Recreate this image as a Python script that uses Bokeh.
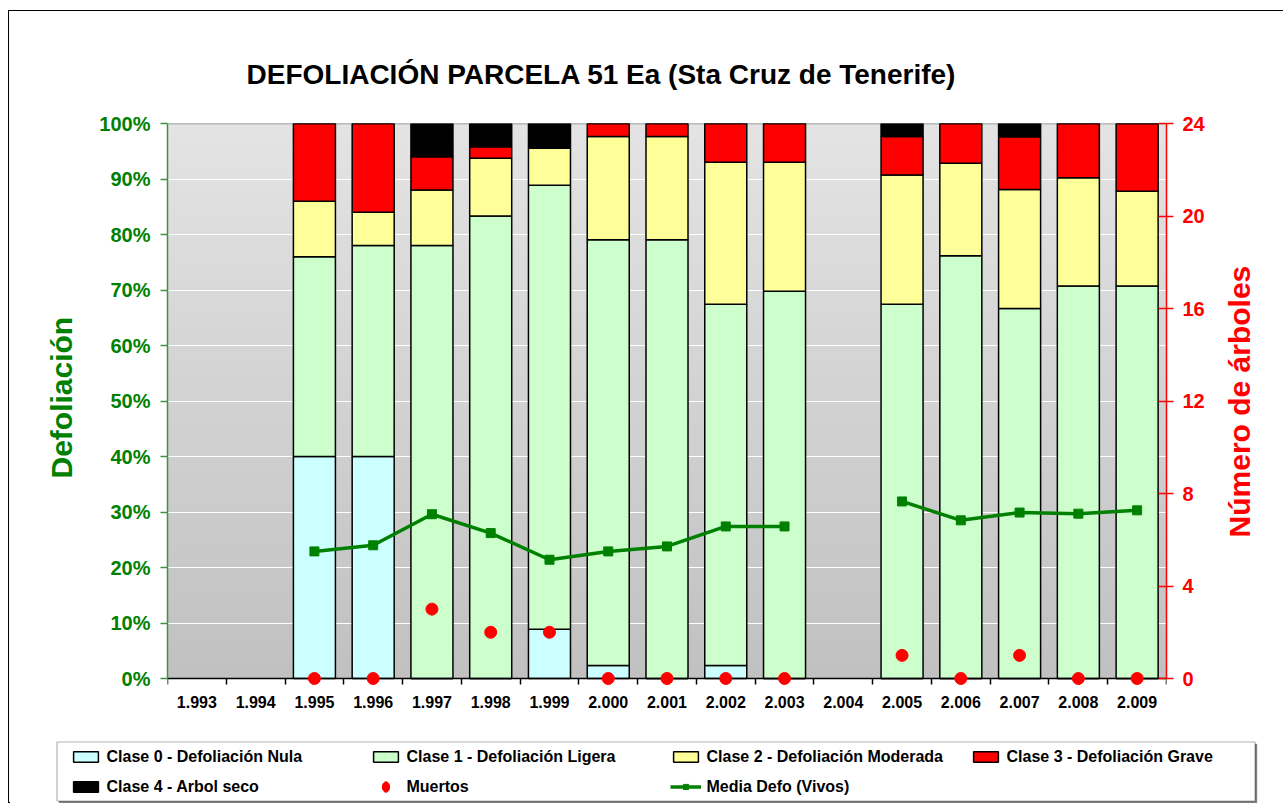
import math
import numpy as np
from bokeh.plotting import figure
from bokeh.layouts import column
from bokeh.models import (Range1d, LinearAxis, FixedTicker, PrintfTickFormatter, Legend,
                          LegendItem, ColumnDataSource, Span, BoxAnnotation, Title)
from bokeh.embed import file_html
from bokeh.resources import INLINE

nan = float("nan")

# ---------------- data ----------------
years = ["1.993", "1.994", "1.995", "1.996", "1.997", "1.998", "1.999", "2.000", "2.001",
         "2.002", "2.003", "2.004", "2.005", "2.006", "2.007", "2.008", "2.009"]
clase0 = [nan, nan, 40.0, 40.0, 0.0, 0.0, 8.89, 2.33, 0.0, 2.33, 0.0, nan, 0.0, 0.0, 0.0, 0.0, 0.0]
clase1 = [nan, nan, 36.0, 38.0, 78.0, 83.33, 80.0, 76.74, 79.07, 65.12, 69.77, nan, 67.44, 76.19, 66.67, 70.73, 70.73]
clase2 = [nan, nan, 10.0, 6.0, 10.0, 10.42, 6.67, 18.60, 18.60, 25.58, 23.26, nan, 23.26, 16.67, 21.43, 19.51, 17.07]
clase3 = [nan, nan, 14.0, 16.0, 6.0, 2.08, 0.0, 2.33, 2.33, 6.98, 6.98, nan, 6.98, 7.14, 9.52, 9.76, 12.20]
clase4 = [nan, nan, 0.0, 0.0, 6.0, 4.17, 4.44, 0.0, 0.0, 0.0, 0.0, nan, 2.33, 0.0, 2.38, 0.0, 0.0]
muertos = [nan, nan, 0, 0, 3, 2, 2, 0, 0, 0, 0, nan, 1, 0, 1, 0, 0]
media_defo = [nan, nan, 22.9, 24.0, 29.6, 26.2, 21.4, 22.9, 23.8, 27.4, 27.4, nan, 31.9, 28.5, 29.9, 29.7, 30.3]

series_names = ["Clase 0 - Defoliación Nula", "Clase 1 - Defoliación Ligera",
                "Clase 2 - Defoliación Moderada", "Clase 3 - Defoliación Grave",
                "Clase 4 - Arbol seco"]
series_colors = ["#CCFFFF", "#CCFFCC", "#FFFF99", "#FF0000", "#000000"]
left_ticks = [0, 10, 20, 30, 40, 50, 60, 70, 80, 90, 100]
right_ticks = [0, 4, 8, 12, 16, 20, 24]
right_title = "Número de árboles"

FONT = "Liberation Sans"
GREEN = "#008000"
RED = "#FF0000"

n = len(years)
xs = list(range(n))
source = ColumnDataSource(dict(x=xs, c0=clase0, c1=clase1, c2=clase2, c3=clase3, c4=clase4,
                               muertos=muertos, media=media_defo))

# a small strip below zero so that markers sitting on 0 are not cut by the frame
pad_px = 8.0
frame_h = 555.0
y_lo = -100.0 * pad_px / frame_h
y2_lo = -24.0 * pad_px / frame_h

FIG_W = 1274
p = figure(width=FIG_W, height=720, output_backend="svg", toolbar_location=None,
           x_range=Range1d(-0.5, n - 0.5), y_range=Range1d(y_lo, 100),
           min_border_left=158, min_border_right=117, min_border_top=112, min_border_bottom=45,
           background_fill_color="white", border_fill_color="white",
           outline_line_color=None,
           title="DEFOLIACIÓN PARCELA 51 Ea (Sta Cruz de Tenerife)")
p.extra_y_ranges = {"right": Range1d(y2_lo, 24)}
p.frame_align = False

# title
p.title.align = "left"
p.title.offset = 79
p.title.standoff = 67
p.title.text_font = FONT
p.title.text_font_size = "28px"
p.title.text_font_style = "bold"
p.title.text_color = "black"

# gradient background of the plot area (0 % .. 100 %)
gh = 200
top_c = np.array([228, 228, 228])
bot_c = np.array([193, 193, 193])
img = np.empty((gh, 1), dtype=np.uint32)
view = img.view(dtype=np.uint8).reshape((gh, 1, 4))
for i in range(gh):
    t = i / (gh - 1)
    c = bot_c + (top_c - bot_c) * t
    view[i, 0, 0] = int(c[0]); view[i, 0, 1] = int(c[1]); view[i, 0, 2] = int(c[2]); view[i, 0, 3] = 255
p.image_rgba(image=[img], x=p.x_range.start, y=0,
             dw=p.x_range.end - p.x_range.start, dh=100, level="image")

# grid
p.xgrid.visible = False
p.ygrid.ticker = FixedTicker(ticks=left_ticks[1:-1])
p.ygrid.grid_line_color = "white"
p.ygrid.grid_line_width = 1.2
p.add_layout(Span(location=100, dimension="width", line_color="#808080", line_width=1.5,
                  level="underlay"))

# bars
bar_style = dict(line_color="black", line_width=1.5)
bar_r = p.vbar_stack(["c0", "c1", "c2", "c3", "c4"], x="x", width=0.715, source=source,
                     fill_color=series_colors, **bar_style)

# media line
line_style = dict(line_color=GREEN, line_width=3.5)
sq_style = dict(marker="square", size=9, fill_color=GREEN, line_color=GREEN)
p.line("x", "media", source=source, **line_style)
p.scatter("x", "media", source=source, **sq_style)

# muertos
dot_style = dict(marker="circle", size=12, fill_color=RED, line_color=RED)
p.scatter("x", "muertos", source=source, y_range_name="right", level="overlay", **dot_style)

# left axis
ya = p.yaxis[0]
ya.ticker = FixedTicker(ticks=left_ticks)
ya.bounds = (0, 100)
ya.formatter = PrintfTickFormatter(format="%d%%")
ya.major_label_text_font = FONT
ya.major_label_text_font_size = "20px"
ya.major_label_text_font_style = "bold"
ya.major_label_text_color = GREEN
ya.major_label_standoff = 10
ya.axis_line_color = "#3d943d"
ya.axis_line_width = 1.5
ya.major_tick_line_color = "#3d943d"
ya.major_tick_line_width = 1.5
ya.major_tick_in = 0
ya.major_tick_out = 7
ya.minor_tick_line_color = None

# left axis title, centred on the 0..100 % span
p.add_layout(Title(text="Defoliación", align="left", offset=208, standoff=37,
                   text_font=FONT, text_font_size="30px", text_font_style="bold",
                   text_color=GREEN), "left")

# right axis
ra = LinearAxis(y_range_name="right", ticker=FixedTicker(ticks=right_ticks), bounds=(0, 24))
ra.major_label_text_font = FONT
ra.major_label_text_font_size = "20px"
ra.major_label_text_font_style = "bold"
ra.major_label_text_color = RED
ra.major_label_standoff = 9
ra.axis_line_color = RED
ra.axis_line_width = 1.5
ra.major_tick_line_color = RED
ra.major_tick_line_width = 1.5
ra.major_tick_in = 8
ra.major_tick_out = 7
ra.minor_tick_line_color = None
p.add_layout(ra, "right")

# right axis title (written bottom-to-top, starting where it is centred on the axis)
title_start = 6.1
rt = LinearAxis(y_range_name="right", ticker=FixedTicker(ticks=[title_start]))
rt.major_label_overrides = {title_start: right_title}
rt.major_label_orientation = math.pi / 2
rt.major_label_text_font = FONT
rt.major_label_text_font_size = "30px"
rt.major_label_text_font_style = "bold"
rt.major_label_text_color = RED
rt.major_label_standoff = 32
rt.axis_line_color = None
rt.major_tick_line_color = None
rt.minor_tick_line_color = None
rt.major_tick_in = 0
rt.major_tick_out = 0
p.add_layout(rt, "right")

# x axis: category labels (at the frame edge) ...
year_ticker = FixedTicker(ticks=xs, minor_ticks=[i - 0.5 for i in range(n + 1)])
xa = p.xaxis[0]
xa.ticker = year_ticker
xa.major_label_overrides = {i: years[i] for i in xs}
xa.major_label_text_font = FONT
xa.major_label_text_font_size = "16px"
xa.major_label_text_font_style = "bold"
xa.major_label_text_color = "black"
xa.major_label_standoff = 9
xa.major_tick_line_color = None
xa.minor_tick_line_color = None
xa.axis_line_color = None
xa.major_tick_in = 0
xa.major_tick_out = 0
xa.minor_tick_in = 0
xa.minor_tick_out = 0

# ... and the axis line with boundary ticks drawn on the 0 line
xa0 = LinearAxis(ticker=year_ticker, fixed_location=0)
xa0.major_label_overrides = {i: "" for i in xs}
xa0.major_label_standoff = 0
xa0.major_label_text_font_size = "1px"
xa0.major_tick_in = 0
xa0.major_tick_out = 0
xa0.minor_tick_in = 0
xa0.minor_tick_out = 6
xa0.minor_tick_line_color = "black"
xa0.minor_tick_line_width = 1.5
xa0.axis_line_color = "black"
xa0.axis_line_width = 1.5
p.add_layout(xa0, "below")

# ---------------- legend strip (second figure, pixel coordinates, y downwards) ----------------
LEG_H = 72
p2 = figure(width=FIG_W, height=LEG_H, output_backend="svg", toolbar_location=None,
            x_axis_type=None, y_axis_type=None, min_border=0,
            x_range=Range1d(0, FIG_W), y_range=Range1d(LEG_H, 0),
            outline_line_color=None, background_fill_color="white", border_fill_color="white")
p2.frame_align = False
p2.grid.visible = False
p2.extra_x_ranges = {"hide": Range1d(1000, 2000)}
p2.extra_y_ranges = {"hide": Range1d(1000, 2000)}
p2.add_layout(BoxAnnotation(left=49.5, right=1247.5, top=12.5, bottom=71.5,
                            fill_color="#808080", fill_alpha=1, line_color="#808080"))
p2.add_layout(BoxAnnotation(left=47.5, right=1245.5, top=10.5, bottom=69.5,
                            fill_color="white", fill_alpha=1, line_color="black", line_width=1.2))

# legend proxies: the same series, mapped onto a range that is out of view
hide = dict(source=source, x_range_name="hide", y_range_name="hide")
leg_r = [p2.vbar(x="x", top=col, width=0.7, fill_color=c, **bar_style, **hide)
         for col, c in zip(["c0", "c1", "c2", "c3", "c4"], series_colors)]
leg_dot = p2.ellipse(x="x", y="muertos", width=9, height=13, width_units="screen",
                     height_units="screen", fill_color=RED, line_color=RED, **hide)
leg_line = p2.line(x="x", y="media", **line_style, **hide)
leg_sq = p2.scatter(x="x", y="media", **sq_style, **hide)

items = [LegendItem(label=series_names[i], renderers=[leg_r[i]]) for i in range(4)]
items.append(LegendItem(label=series_names[4], renderers=[leg_r[4]]))
items.append(LegendItem(label="Muertos", renderers=[leg_dot]))
items.append(LegendItem(label="Media Defo (Vivos)", renderers=[leg_line, leg_sq]))
legend = Legend(items=items, ncols=4, orientation="horizontal",
                location=(60.5, 7), margin=0, padding=0, spacing=11,
                glyph_width=31, glyph_height=13, label_width=252, label_height=19,
                label_standoff=6, border_line_color=None, background_fill_alpha=0,
                label_text_font=FONT, label_text_font_size="16px",
                label_text_font_style="bold", label_text_color="black")
p2.add_layout(legend, "center")

layout = column(p, p2, spacing=0,
                styles={"margin-left": "8px", "margin-top": "10px",
                        "border-left": "1.5px solid black", "border-top": "1.5px solid black"})

open("out.html", "w").write(file_html(layout, INLINE))
